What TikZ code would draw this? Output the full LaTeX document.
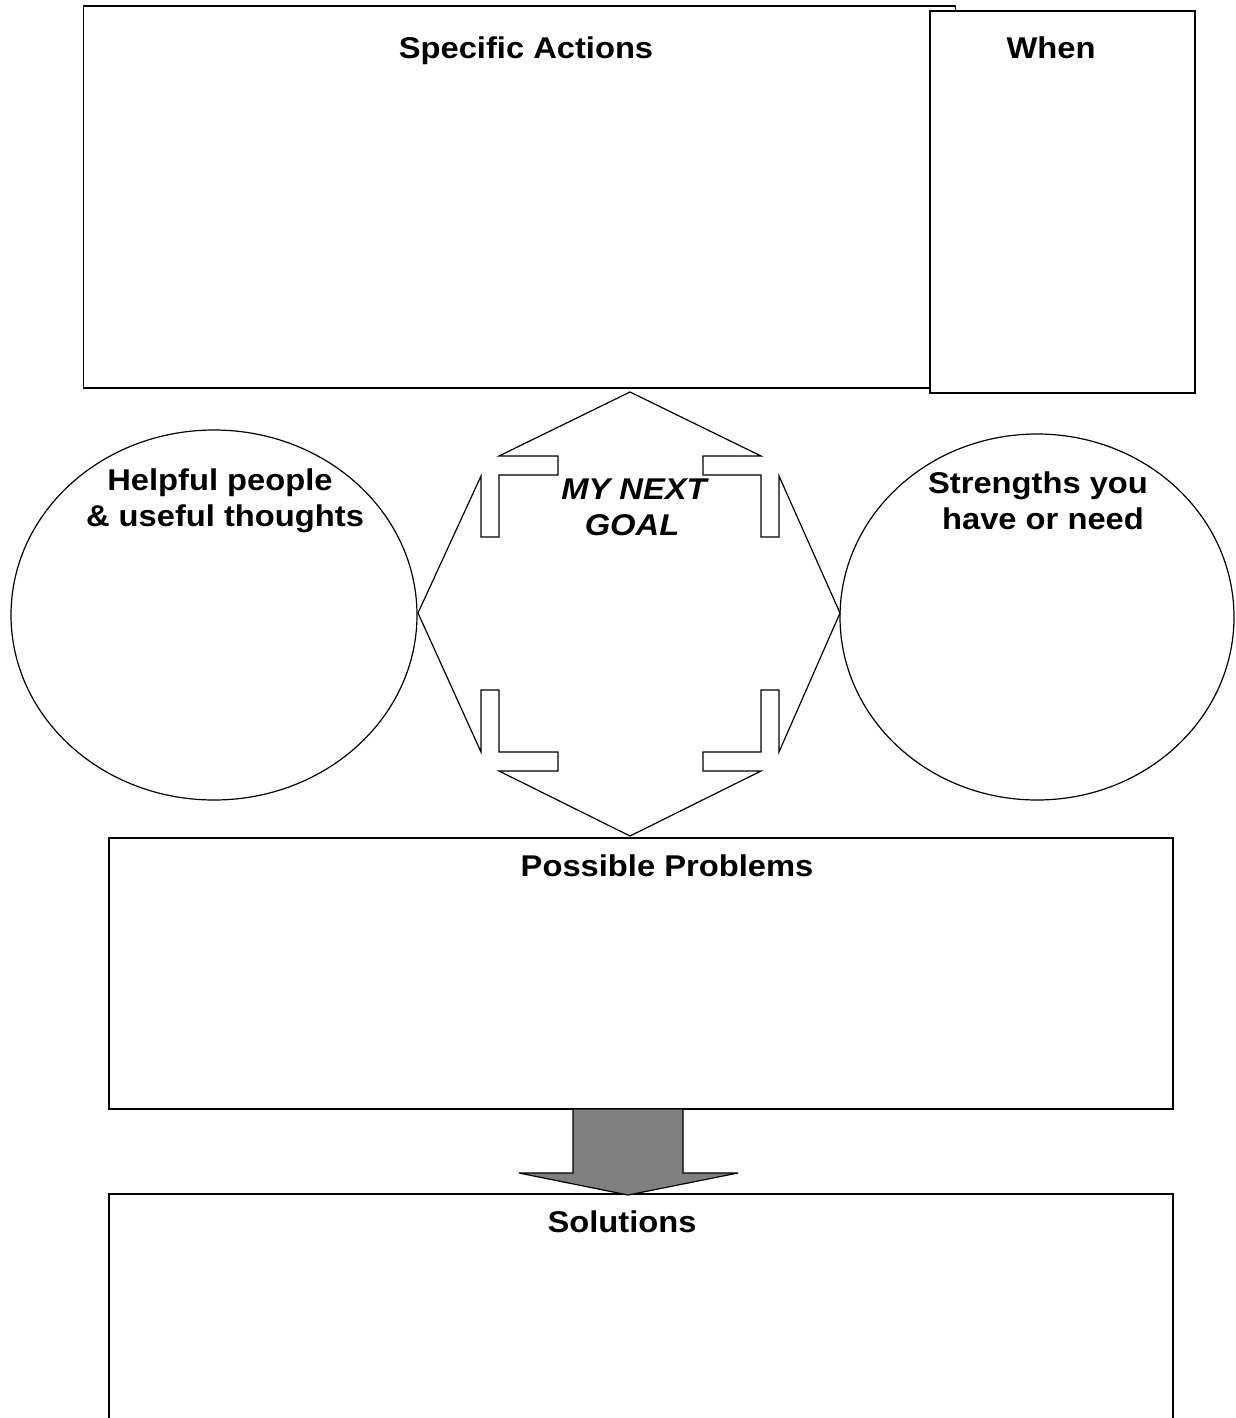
\documentclass[tikz,border=0pt]{standalone}
\usepackage{fontspec}
\setmainfont[FakeStretch=1.09]{Liberation Sans}
\begin{document}
\begin{tikzpicture}[x=1pt,y=-1pt,
  box/.style={draw=black, line width=1.4pt, fill=white, rectangle, inner sep=0pt},
  lbl/.style={font=\fontsize{30}{35}\selectfont\bfseries, anchor=base, inner sep=0pt},
  goal/.style={font=\fontsize{30}{35}\selectfont\bfseries\itshape, anchor=base, inner sep=0pt}]
\useasboundingbox (0,0) rectangle (1235,1418);
\clip (0,0) rectangle (1235,1418);
% boxes
\node[box, minimum width=872pt, minimum height=382pt] (sa) at (519.5,197) {};
\node[box, minimum width=265pt, minimum height=382pt] (when) at (1062.5,202) {};
\node[box, minimum width=1064pt, minimum height=271pt] (pp) at (641,973.5) {};
\node[box, minimum width=1064pt, minimum height=260pt] (sol) at (641,1324) {};
% ellipses
\draw[line width=1.2pt] (214,615) ellipse [x radius=203, y radius=185];
\draw[line width=1.2pt] (1037,617) ellipse [x radius=197, y radius=183];
% quad arrow
\draw[line width=1.2pt, line join=miter, fill=white]
  (418,613) -- (481,752) -- (481,690) -- (499,690) -- (499,752) -- (558,752) -- (558,771) -- (499,771)
  -- (630,836) -- (761,771) -- (703,771) -- (703,752) -- (761,752) -- (761,690) -- (779,690) -- (779,752)
  -- (840,613) -- (779,476) -- (779,537) -- (761,537) -- (761,475) -- (703,475) -- (703,456) -- (761,456)
  -- (630,392) -- (499,456) -- (558,456) -- (558,475) -- (499,475) -- (499,537) -- (481,537) -- (481,476) -- cycle;
% gray arrow
\draw[line width=1.2pt, fill={rgb,255:red,128;green,128;blue,128}]
  (573,1109) -- (683,1109) -- (683,1173) -- (738,1173) -- (628,1195) -- (519,1173) -- (573,1173) -- cycle;
% labels
\node[lbl] (tsa) at (526,59) {Specific Actions};
\node[lbl] (twhen) at (1051,59) {When};
\node[lbl] (th1) at (220,490) {Helpful people};
\node[lbl] (th2) at (225,526) {\& useful thoughts};
\node[lbl] (ts1) at (1038,493) {Strengths you};
\node[lbl] (ts2) at (1043,529) {have or need};
\node[goal] (tg1) at (634,499) {MY NEXT};
\node[goal] (tg2) at (632,535) {GOAL};
\node[lbl] (tpp) at (667,876) {Possible Problems};
\node[lbl] (tsol) at (622,1232) {Solutions};
\end{tikzpicture}
\end{document}
